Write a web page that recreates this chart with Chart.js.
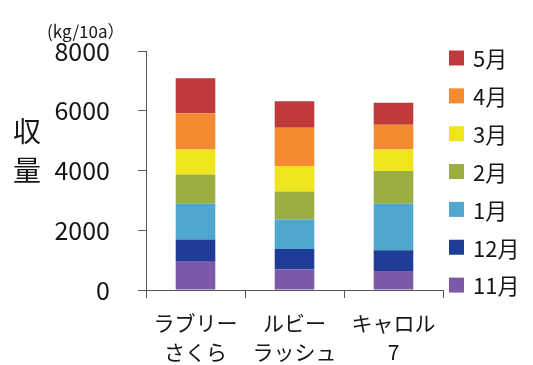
<!DOCTYPE html>
<html>
<head>
<meta charset="utf-8">
<script src="https://cdn.jsdelivr.net/npm/chart.js@4"></script>
<style>
  html, body { margin: 0; padding: 0; background: #fff; }
  #wrap { width: 533px; height: 365px; position: relative; }
</style>
</head>
<body>
<div id="wrap"><canvas id="c" width="533" height="365"></canvas></div>
<script>
// Varieties (two-line category labels)
const varieties = [['ラブリー', 'さくら'], ['ルビー', 'ラッシュ'], ['キャロル', '7']];

// Monthly harvest per variety (kg/10a)
const months = ['11月', '12月', '1月', '2月', '3月', '4月', '5月'];
const nov = [970, 690, 640];
const dec = [720, 680, 690];
const jan = [1200, 990, 1560];
const feb = [980, 940, 1090];
const mar = [830, 850, 720];
const apr = [1220, 1280, 830];
const may = [1170, 890, 740];

const yTicks = [0, 2000, 4000, 6000, 8000];
const unitLabel = '(kg/10a）';
const yTitle = ['収', '量'];

const monthColors = ['#7d5aa8', '#1f3d96', '#4fa7cf', '#9bae42', '#efe51c', '#f48b31', '#c13a3b'];
const series = [nov, dec, jan, feb, mar, apr, may];

const FONT = '"Noto Sans CJK JP", "Noto Sans", sans-serif';
const TEXT = '#161616';

// Unit label, vertical axis title and the month legend
const decorations = {
  id: 'decorations',
  afterDraw(chart) {
    const ctx = chart.ctx;
    ctx.save();
    ctx.fillStyle = TEXT;
    ctx.textBaseline = 'alphabetic';
    ctx.textAlign = 'left';
    ctx.font = '17px ' + FONT;
    ctx.fillText(unitLabel, 47, 38);

    ctx.font = '28px ' + FONT;
    ctx.textAlign = 'center';
    ctx.textBaseline = 'middle';
    ctx.fillText(yTitle[0], 27, 131);
    ctx.fillText(yTitle[1], 27, 170);

    // legend, latest month on top
    const ds = chart.data.datasets;
    ctx.font = '22px ' + FONT;
    ctx.textAlign = 'left';
    for (let i = 0; i < ds.length; i++) {
      const d = ds[ds.length - 1 - i];
      const cy = 58 + i * 37.85;
      ctx.fillStyle = d.backgroundColor;
      ctx.fillRect(449, cy - 7.5, 15, 15);
      ctx.fillStyle = TEXT;
      ctx.fillText(d.label, 473, cy + 1);
    }
    ctx.restore();
  }
};

new Chart(document.getElementById('c'), {
  type: 'bar',
  data: {
    labels: varieties,
    datasets: months.map((m, i) => ({
      label: m,
      data: series[i],
      backgroundColor: monthColors[i],
      borderWidth: 0,
      barPercentage: 0.4,
      categoryPercentage: 1.0
    }))
  },
  options: {
    responsive: false,
    animation: false,
    devicePixelRatio: 1,
    layout: { padding: { left: 0, right: 90, top: 51, bottom: 0 } },
    plugins: { legend: { display: false }, tooltip: { enabled: false } },
    scales: {
      x: {
        stacked: true,
        grid: { display: true, drawOnChartArea: false, drawTicks: true, tickLength: 8, color: '#555', offset: true },
        border: { display: true, color: '#555', width: 1 },
        ticks: { color: TEXT, font: { family: FONT, size: 21, lineHeight: 1.4 }, padding: 10, maxRotation: 0, autoSkip: false },
        afterFit(scale) { scale.height = 75; }
      },
      y: {
        stacked: true,
        min: 0,
        max: 8000,
        afterBuildTicks(scale) { scale.ticks = yTicks.map(v => ({ value: v })); },
        grid: { display: true, drawOnChartArea: false, drawTicks: true, tickLength: 8, color: '#555' },
        border: { display: true, color: '#555', width: 1 },
        ticks: { color: TEXT, font: { family: FONT, size: 25 }, padding: 28, callback: v => String(v) },
        afterFit(scale) { scale.width = 146; }
      }
    }
  },
  plugins: [decorations]
});
</script>
</body>
</html>
